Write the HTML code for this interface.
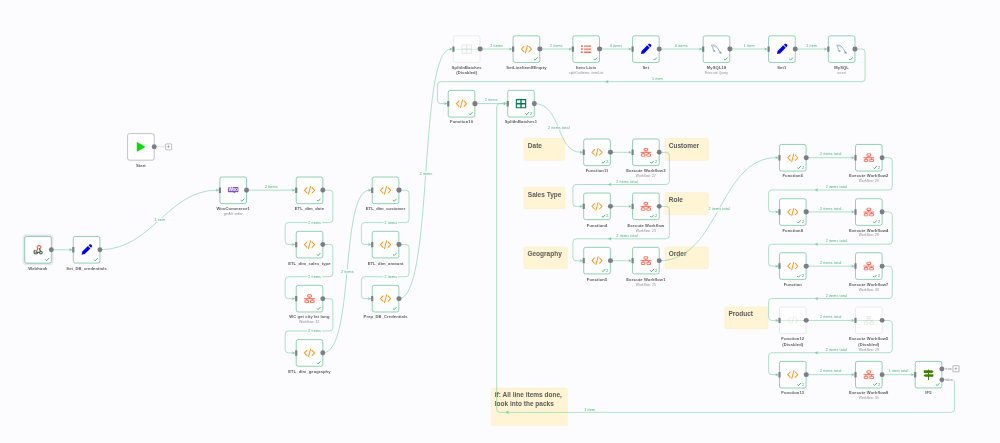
<!DOCTYPE html>
<html lang="en"><head><meta charset="utf-8"><title>n8n workflow</title>
<style>
html,body{margin:0;padding:0;overflow:hidden}
body{width:1000px;height:443px;overflow:hidden;background:#fcfcfe;position:relative;
 font-family:"Liberation Sans",sans-serif}
#cv{position:absolute;left:0;top:0;width:3700px;height:1640px;transform:scale(0.2715);transform-origin:0 0}
#wires{position:absolute;left:0;top:0;overflow:visible}
.n{position:absolute;width:100px;height:100px;box-sizing:border-box;background:#fff;border:2px solid #36ab72;border-radius:8px}
.n.idle{border-color:#8e8e99}
.n.sel{box-shadow:0 0 0 7px #e6e7f0}
.n.off{border-color:#dcdce3}
.n .ic{position:absolute;left:50%;top:50%;transform:translate(-50%,-50%)}
.n.off .ic{opacity:.2;filter:grayscale(1)}
.n .strike{position:absolute;left:-2px;right:-2px;top:47px;height:2px;background:#a9dfc3}
.in{position:absolute;left:-5px;top:38px;width:8px;height:20px;background:#7d7d87;border-radius:1px}
.out{position:absolute;left:88.2px;top:38.8px;width:18.4px;height:18.4px;border-radius:50%;background:#7d7d87}
.n.if .o1{top:17.8px}.n.if .o2{top:57.8px}
.olab{position:absolute;left:109px;font-size:12px;color:#777780;line-height:12px;letter-spacing:.3px;background:#fcfcfe;padding:0 2px}
.st{position:absolute;right:6px;bottom:5px;height:14px;display:flex;align-items:center;color:#29a568;font-size:14.5px;font-weight:400;line-height:14px}
.st span{margin-left:2.5px}
.t{position:absolute;left:-100px;width:296px;top:104.2px;text-align:center;font-size:15px;line-height:21px;font-weight:700;color:#5c5c5c;letter-spacing:.45px;white-space:nowrap}
.s{font-size:12px;line-height:15px;font-weight:400;color:#8a8a94;letter-spacing:.4px;margin-top:2px}
.plus{position:absolute;width:24px;height:24px;box-sizing:border-box;border:2px solid #8a8a95;border-radius:3px;background:#fff;
 color:#7d7d87;font-size:18px;line-height:19px;text-align:center;font-weight:700}
.pl{position:absolute;height:2px;background:#c9cad3}
.sticky{position:absolute;box-sizing:border-box;background:#fff4d3;border:1.5px solid #f6e5b6;border-radius:5px;color:#5a5a5a;
 font-weight:700;font-size:24px;line-height:32px;padding:10px 0 0 13px;letter-spacing:0;white-space:nowrap}
.lb{position:absolute;transform:translate(-50%,-50%);font-size:13.5px;line-height:14px;color:#40b079;white-space:nowrap;padding:0 3px;letter-spacing:.5px}
.lb.on{background:#fcfcfe}
</style></head>
<body>
<div id="cv">
<div class="sticky" style="left:1930.0px;top:509.4px;width:150.6px;height:81.4px">Date</div>
<div class="sticky" style="left:2449.0px;top:509.4px;width:161.3px;height:81.4px">Customer</div>
<div class="sticky" style="left:1930.0px;top:689.1px;width:150.6px;height:81.4px">Sales Type</div>
<div class="sticky" style="left:2449.0px;top:709.4px;width:161.3px;height:81.4px">Role</div>
<div class="sticky" style="left:1928.5px;top:909.4px;width:161.3px;height:81.0px">Geography</div>
<div class="sticky" style="left:2449.0px;top:909.4px;width:161.3px;height:81.0px">Order</div>
<div class="sticky" style="left:2668.9px;top:1129.7px;width:160.6px;height:81.0px">Product</div>
<div class="sticky" style="left:1808.5px;top:1429.1px;width:281.8px;height:139.6px">if: All line items done,<br>look into the packs</div>
<svg id="wires" width="3700" height="1640" viewBox="0 0 1004.550 445.260"><g fill="none" stroke="#79cfa3" stroke-width="0.6"><path d="M51.15 249.77 L70.50 249.77"/><path d="M99.85 249.77 C151.85 249.77 167.60 190.17 217.10 190.17"/><path d="M246.45 190.17 L293.30 190.17"/><path d="M322.65 190.17 L329.65 190.17 Q332.85 190.17 332.85 193.37 L332.85 219.35 Q332.85 222.55 329.65 222.55 L288.40 222.55 Q285.20 222.55 285.20 225.75 L285.20 241.28 Q285.20 244.47 288.40 244.47 L293.30 244.47"/><path d="M322.65 244.47 L329.65 244.47 Q332.85 244.47 332.85 247.67 L332.85 273.55 Q332.85 276.75 329.65 276.75 L288.40 276.75 Q285.20 276.75 285.20 279.95 L285.20 295.48 Q285.20 298.68 288.40 298.68 L293.30 298.68"/><path d="M322.65 298.68 L329.65 298.68 Q332.85 298.68 332.85 301.88 L332.85 327.75 Q332.85 330.95 329.65 330.95 L288.40 330.95 Q285.20 330.95 285.20 334.15 L285.20 349.68 Q285.20 352.88 288.40 352.88 L293.30 352.88"/><path d="M322.65 352.88 C355.15 352.88 339.50 190.17 369.50 190.17"/><path d="M398.85 190.17 L405.85 190.17 Q409.05 190.17 409.05 193.37 L409.05 219.35 Q409.05 222.55 405.85 222.55 L364.60 222.55 Q361.40 222.55 361.40 225.75 L361.40 241.28 Q361.40 244.47 364.60 244.47 L369.50 244.47"/><path d="M398.85 244.47 L405.85 244.47 Q409.05 244.47 409.05 247.67 L409.05 273.55 Q409.05 276.75 405.85 276.75 L364.60 276.75 Q361.40 276.75 361.40 279.95 L361.40 295.48 Q361.40 298.68 364.60 298.68 L369.50 298.68"/><path d="M398.85 298.68 C433.85 298.68 418.20 49.03 450.70 49.03"/><path d="M480.05 49.03 L510.40 49.03"/><path d="M539.75 49.03 L570.10 49.03"/><path d="M599.45 49.03 L629.80 49.03"/><path d="M659.15 49.03 L700.50 49.03"/><path d="M729.85 49.03 L765.70 49.03"/><path d="M795.05 49.03 L825.50 49.03"/><path d="M854.85 49.03 L861.85 49.03 Q865.05 49.03 865.05 52.23 L865.05 78.45 Q865.05 81.65 861.85 81.65 L440.60 81.65 Q437.40 81.65 437.40 84.85 L437.40 100.38 Q437.40 103.58 440.60 103.58 L445.50 103.58"/><path d="M474.85 103.58 L504.80 103.58"/><path d="M534.15 103.58 C562.15 103.58 555.50 152.32 581.00 152.32"/><path d="M610.35 152.32 L629.80 152.32"/><path d="M659.15 152.32 L666.15 152.32 Q669.35 152.32 669.35 155.52 L669.35 181.30 Q669.35 184.50 666.15 184.50 L576.10 184.50 Q572.90 184.50 572.90 187.70 L572.90 203.22 Q572.90 206.42 576.10 206.42 L581.00 206.42"/><path d="M610.35 206.42 L629.80 206.42"/><path d="M659.15 206.42 L666.15 206.42 Q669.35 206.42 669.35 209.62 L669.35 235.60 Q669.35 238.80 666.15 238.80 L576.10 238.80 Q572.90 238.80 572.90 242.00 L572.90 257.53 Q572.90 260.73 576.10 260.73 L581.00 260.73"/><path d="M610.35 260.73 L629.80 260.73"/><path d="M659.15 260.73 C720.15 260.73 718.20 157.67 776.70 157.67"/><path d="M806.05 157.67 L852.70 157.67"/><path d="M882.05 157.67 L889.05 157.67 Q892.25 157.67 892.25 160.87 L892.25 186.80 Q892.25 190.00 889.05 190.00 L771.80 190.00 Q768.60 190.00 768.60 193.20 L768.60 208.72 Q768.60 211.92 771.80 211.92 L776.70 211.92"/><path d="M806.05 211.92 L852.70 211.92"/><path d="M882.05 211.92 L889.05 211.92 Q892.25 211.92 892.25 215.12 L892.25 241.05 Q892.25 244.25 889.05 244.25 L771.80 244.25 Q768.60 244.25 768.60 247.45 L768.60 262.98 Q768.60 266.18 771.80 266.18 L776.70 266.18"/><path d="M806.05 266.18 L852.70 266.18"/><path d="M882.05 266.18 L889.05 266.18 Q892.25 266.18 892.25 269.38 L892.25 295.30 Q892.25 298.50 889.05 298.50 L771.80 298.50 Q768.60 298.50 768.60 301.70 L768.60 317.23 Q768.60 320.43 771.80 320.43 L776.70 320.43"/><path d="M806.05 320.43 L852.70 320.43"/><path d="M882.05 320.43 L889.05 320.43 Q892.25 320.43 892.25 323.62 L892.25 349.55 Q892.25 352.75 889.05 352.75 L771.80 352.75 Q768.60 352.75 768.60 355.95 L768.60 371.48 Q768.60 374.68 771.80 374.68 L776.70 374.68"/><path d="M806.05 374.68 L852.70 374.68"/><path d="M882.05 374.68 L912.40 374.68"/><path d="M941.75 379.60 L951.25 379.60 Q954.45 379.60 954.45 382.80 L954.45 409.15 Q954.45 412.35 951.25 412.35 L499.90 412.35 Q496.70 412.35 496.70 409.15 L496.70 106.78 Q496.70 103.58 499.90 103.58 L504.80 103.58"/></g><g fill="#79cfa3"><path d="M72.40 249.77 l-3.2 -1.65 l0.7 1.65 l-0.7 1.65 z"/><path d="M219.00 190.17 l-3.2 -1.65 l0.7 1.65 l-0.7 1.65 z"/><path d="M295.20 190.17 l-3.2 -1.65 l0.7 1.65 l-0.7 1.65 z"/><path d="M295.20 244.47 l-3.2 -1.65 l0.7 1.65 l-0.7 1.65 z"/><path d="M295.20 298.68 l-3.2 -1.65 l0.7 1.65 l-0.7 1.65 z"/><path d="M295.20 352.88 l-3.2 -1.65 l0.7 1.65 l-0.7 1.65 z"/><path d="M371.40 190.17 l-3.2 -1.65 l0.7 1.65 l-0.7 1.65 z"/><path d="M371.40 244.47 l-3.2 -1.65 l0.7 1.65 l-0.7 1.65 z"/><path d="M371.40 298.68 l-3.2 -1.65 l0.7 1.65 l-0.7 1.65 z"/><path d="M452.60 49.03 l-3.2 -1.65 l0.7 1.65 l-0.7 1.65 z"/><path d="M512.30 49.03 l-3.2 -1.65 l0.7 1.65 l-0.7 1.65 z"/><path d="M572.00 49.03 l-3.2 -1.65 l0.7 1.65 l-0.7 1.65 z"/><path d="M631.70 49.03 l-3.2 -1.65 l0.7 1.65 l-0.7 1.65 z"/><path d="M702.40 49.03 l-3.2 -1.65 l0.7 1.65 l-0.7 1.65 z"/><path d="M767.60 49.03 l-3.2 -1.65 l0.7 1.65 l-0.7 1.65 z"/><path d="M827.40 49.03 l-3.2 -1.65 l0.7 1.65 l-0.7 1.65 z"/><path d="M447.40 103.58 l-3.2 -1.65 l0.7 1.65 l-0.7 1.65 z"/><path d="M605.17 81.65 l3.4 -1.85 l-0.8 1.85 l0.8 1.85 z"/><path d="M506.70 103.58 l-3.2 -1.65 l0.7 1.65 l-0.7 1.65 z"/><path d="M582.90 152.32 l-3.2 -1.65 l0.7 1.65 l-0.7 1.65 z"/><path d="M631.70 152.32 l-3.2 -1.65 l0.7 1.65 l-0.7 1.65 z"/><path d="M582.90 206.42 l-3.2 -1.65 l0.7 1.65 l-0.7 1.65 z"/><path d="M608.01 184.50 l3.4 -1.85 l-0.8 1.85 l0.8 1.85 z"/><path d="M631.70 206.42 l-3.2 -1.65 l0.7 1.65 l-0.7 1.65 z"/><path d="M582.90 260.73 l-3.2 -1.65 l0.7 1.65 l-0.7 1.65 z"/><path d="M608.09 238.80 l3.4 -1.85 l-0.8 1.85 l0.8 1.85 z"/><path d="M631.70 260.73 l-3.2 -1.65 l0.7 1.65 l-0.7 1.65 z"/><path d="M778.60 157.67 l-3.2 -1.65 l0.7 1.65 l-0.7 1.65 z"/><path d="M854.60 157.67 l-3.2 -1.65 l0.7 1.65 l-0.7 1.65 z"/><path d="M778.60 211.92 l-3.2 -1.65 l0.7 1.65 l-0.7 1.65 z"/><path d="M814.65 190.00 l3.4 -1.85 l-0.8 1.85 l0.8 1.85 z"/><path d="M854.60 211.92 l-3.2 -1.65 l0.7 1.65 l-0.7 1.65 z"/><path d="M778.60 266.18 l-3.2 -1.65 l0.7 1.65 l-0.7 1.65 z"/><path d="M814.65 244.25 l3.4 -1.85 l-0.8 1.85 l0.8 1.85 z"/><path d="M854.60 266.18 l-3.2 -1.65 l0.7 1.65 l-0.7 1.65 z"/><path d="M778.60 320.43 l-3.2 -1.65 l0.7 1.65 l-0.7 1.65 z"/><path d="M814.65 298.50 l3.4 -1.85 l-0.8 1.85 l0.8 1.85 z"/><path d="M854.60 320.43 l-3.2 -1.65 l0.7 1.65 l-0.7 1.65 z"/><path d="M778.60 374.68 l-3.2 -1.65 l0.7 1.65 l-0.7 1.65 z"/><path d="M814.65 352.75 l3.4 -1.85 l-0.8 1.85 l0.8 1.85 z"/><path d="M854.60 374.68 l-3.2 -1.65 l0.7 1.65 l-0.7 1.65 z"/><path d="M914.30 374.68 l-3.2 -1.65 l0.7 1.65 l-0.7 1.65 z"/><path d="M506.70 103.58 l-3.2 -1.65 l0.7 1.65 l-0.7 1.65 z"/><path d="M505.45 412.35 l3.4 -1.85 l-0.8 1.85 l0.8 1.85 z"/></g></svg>
<div class="pl" style="left:567.8px;top:539.6px;width:41.4px"></div><div class="plus" style="left:608.8px;top:528.6px">+</div>
<div class="pl" style="left:3468.7px;top:1357.2px;width:41.4px"></div><div class="plus" style="left:3508.7px;top:1346.2px;box-shadow:0 0 0 2px #e6e7f0">+</div>
<div class="lb on" style="left:588.3px;top:810.2px">1 item</div>
<div class="lb " style="left:999.2px;top:687.6px">2 items</div>
<div class="lb on" style="left:1158.9px;top:819.7px">2 items</div>
<div class="lb on" style="left:1158.7px;top:1019.3px">2 items</div>
<div class="lb on" style="left:1158.7px;top:1219.0px">2 items</div>
<div class="lb on" style="left:1279.3px;top:1000.1px">2 items</div>
<div class="lb on" style="left:1439.6px;top:819.7px">2 items</div>
<div class="lb on" style="left:1439.4px;top:1019.3px">2 items</div>
<div class="lb on" style="left:1569.2px;top:640.3px">2 items</div>
<div class="lb " style="left:1829.2px;top:167.7px">2 items</div>
<div class="lb " style="left:2049.1px;top:167.7px">2 items</div>
<div class="lb " style="left:2269.0px;top:167.7px">4 items</div>
<div class="lb " style="left:2509.1px;top:167.7px">4 items</div>
<div class="lb " style="left:2759.4px;top:167.7px">1 item</div>
<div class="lb " style="left:2989.6px;top:167.7px">1 item</div>
<div class="lb " style="left:2421.3px;top:290.1px">1 item</div>
<div class="lb " style="left:1809.3px;top:368.6px">2 items</div>
<div class="lb on" style="left:2058.3px;top:471.3px">2 items total</div>
<div class="lb " style="left:2309.6px;top:668.9px">2 items total</div>
<div class="lb " style="left:2309.9px;top:868.9px">2 items total</div>
<div class="lb on" style="left:2648.9px;top:770.5px">2 items total</div>
<div class="lb " style="left:3059.9px;top:567.9px">2 items total</div>
<div class="lb " style="left:3080.8px;top:689.1px">2 items total</div>
<div class="lb " style="left:3059.9px;top:767.7px">2 items total</div>
<div class="lb " style="left:3080.8px;top:889.0px">2 items total</div>
<div class="lb " style="left:3059.9px;top:967.5px">2 items total</div>
<div class="lb " style="left:3080.8px;top:1088.8px">2 items total</div>
<div class="lb " style="left:3059.9px;top:1167.3px">2 items total</div>
<div class="lb " style="left:3080.8px;top:1288.6px">2 items total</div>
<div class="lb " style="left:3059.9px;top:1367.1px">2 items total</div>
<div class="lb " style="left:3309.9px;top:1367.1px">1 item total</div>
<div class="lb " style="left:2171.7px;top:1508.1px">1 item</div>
<div class="n sel" style="left:89.5px;top:870.0px"><svg class="ic" width="36" height="36" viewBox="0 0 36 36"><g fill="none" stroke-linecap="round" stroke-linejoin="round" stroke-width="4.4"><path d="M11 27.5 H24 C25.5 22.5 33 23 33.5 28 C34 33.5 27 35 24.5 31.5" stroke="#3d6957"/><path d="M22.5 13.5 L26.5 21" stroke="#3d6957"/><path d="M7.5 20 C2 22 1.5 30 7 32.5 C12 34.5 16.5 31.5 17 27.5" stroke="#3d6957"/><path d="M10.5 27 L17 14.5 C13.5 10.5 15.5 3.5 21 3 C27 2.6 30 8.5 27.5 12.5" stroke="#ff6150"/></g></svg><div class="out"></div><div class="st"><svg width="16" height="13.7" viewBox="0 0 14 12"><path d="M1.5 6.5 L5 10 L12.5 2" fill="none" stroke="#29a568" stroke-width="2.7" stroke-linecap="round" stroke-linejoin="round"/></svg></div><div class="t" style="top:105.3px">Webhook</div></div>
<div class="n" style="left:268.9px;top:870.0px"><svg class="ic" width="43" height="43" viewBox="0 0 40 40"><g fill="#0000ff"><path d="M3 37 L5.2 26.2 L24.5 6.9 L33.1 15.5 L13.8 34.8 Z"/><path d="M26.6 4.8 L29.2 2.2 a4.2 4.2 0 0 1 6 0 L37.8 4.8 a4.2 4.2 0 0 1 0 6 L35.2 13.4 Z"/></g></svg><div class="in"></div><div class="out"></div><div class="st"><svg width="16" height="13.7" viewBox="0 0 14 12"><path d="M1.5 6.5 L5 10 L12.5 2" fill="none" stroke="#29a568" stroke-width="2.7" stroke-linecap="round" stroke-linejoin="round"/></svg></div><div class="t" style="top:105.3px">Set_DB_credentials</div></div>
<div class="n idle" style="left:468.9px;top:490.6px"><svg class="ic" width="32" height="36" viewBox="0 0 32 36"><path d="M3.5 1 L29 15.6 a2.8 2.8 0 0 1 0 4.8 L3.5 35 a2.4 2.4 0 0 1 -3.5 -2 V3 a2.4 2.4 0 0 1 3.5 -2 Z" fill="#00e000"/></svg><div class="out"></div><div class="t" style="top:105.3px">Start</div></div>
<div class="n" style="left:808.8px;top:650.5px"><svg class="ic" width="40" height="24" viewBox="0 0 40 24"><path d="M3.5 0 H36.5 a3.5 3.5 0 0 1 3.5 3.5 V15.5 a3.5 3.5 0 0 1 -3.5 3.5 H25 L28 24 L19 19 H3.5 a3.5 3.5 0 0 1 -3.5 -3.5 V3.5 a3.5 3.5 0 0 1 3.5 -3.5 Z" fill="#7f54b3"/><text x="19.5" y="15.8" text-anchor="middle" font-family="Liberation Sans, sans-serif" font-weight="700" font-size="17.5" letter-spacing="-1.1" fill="#fff">Woo</text></svg><div class="in"></div><div class="out"></div><div class="st"><svg width="16" height="13.7" viewBox="0 0 14 12"><path d="M1.5 6.5 L5 10 L12.5 2" fill="none" stroke="#29a568" stroke-width="2.7" stroke-linecap="round" stroke-linejoin="round"/></svg></div><div class="t">WooCommerce1<div class="s">getAll: order</div></div></div>
<div class="n" style="left:1089.5px;top:650.5px"><svg class="ic" width="44" height="35" viewBox="0 0 40 32"><g fill="none" stroke="#ff9922" stroke-width="3.5" stroke-linecap="round" stroke-linejoin="round"><path d="M11.5 7 L3 16 L11.5 25"/><path d="M28.5 7 L37 16 L28.5 25"/><path d="M23.5 3 L16.5 29"/></g></svg><div class="in"></div><div class="out"></div><div class="st"><svg width="16" height="13.7" viewBox="0 0 14 12"><path d="M1.5 6.5 L5 10 L12.5 2" fill="none" stroke="#29a568" stroke-width="2.7" stroke-linecap="round" stroke-linejoin="round"/></svg></div><div class="t">ETL_dim_date</div></div>
<div class="n" style="left:1089.5px;top:850.5px"><svg class="ic" width="44" height="35" viewBox="0 0 40 32"><g fill="none" stroke="#ff9922" stroke-width="3.5" stroke-linecap="round" stroke-linejoin="round"><path d="M11.5 7 L3 16 L11.5 25"/><path d="M28.5 7 L37 16 L28.5 25"/><path d="M23.5 3 L16.5 29"/></g></svg><div class="in"></div><div class="out"></div><div class="st"><svg width="16" height="13.7" viewBox="0 0 14 12"><path d="M1.5 6.5 L5 10 L12.5 2" fill="none" stroke="#29a568" stroke-width="2.7" stroke-linecap="round" stroke-linejoin="round"/></svg></div><div class="t" style="top:106.0px">ETL_dim_sales_type</div></div>
<div class="n" style="left:1089.5px;top:1050.1px"><svg class="ic" width="41" height="33" viewBox="0 0 40 32"><g fill="none" stroke="#ff5d4a" stroke-width="3.5" stroke-linejoin="round"><rect x="13.6" y="1.6" width="12.8" height="8.8" rx="1"/><rect x="3.6" y="21.6" width="12.8" height="8.8" rx="1"/><rect x="23.6" y="21.6" width="12.8" height="8.8" rx="1"/></g><g fill="#ff5d4a"><rect x="0" y="14.4" width="40" height="3.2"/><rect x="18.6" y="10" width="2.8" height="6"/><rect x="8.6" y="16" width="2.8" height="6"/><rect x="28.6" y="16" width="2.8" height="6"/></g></svg><div class="in"></div><div class="out"></div><div class="st"><svg width="16" height="13.7" viewBox="0 0 14 12"><path d="M1.5 6.5 L5 10 L12.5 2" fill="none" stroke="#29a568" stroke-width="2.7" stroke-linecap="round" stroke-linejoin="round"/></svg></div><div class="t">WC get city lat long<div class="s">Workflow: 32</div></div></div>
<div class="n" style="left:1089.5px;top:1249.7px"><svg class="ic" width="44" height="35" viewBox="0 0 40 32"><g fill="none" stroke="#ff9922" stroke-width="3.5" stroke-linecap="round" stroke-linejoin="round"><path d="M11.5 7 L3 16 L11.5 25"/><path d="M28.5 7 L37 16 L28.5 25"/><path d="M23.5 3 L16.5 29"/></g></svg><div class="in"></div><div class="out"></div><div class="st"><svg width="16" height="13.7" viewBox="0 0 14 12"><path d="M1.5 6.5 L5 10 L12.5 2" fill="none" stroke="#29a568" stroke-width="2.7" stroke-linecap="round" stroke-linejoin="round"/></svg></div><div class="t" style="top:105.3px">ETL_dim_geography</div></div>
<div class="n" style="left:1370.2px;top:650.5px"><svg class="ic" width="44" height="35" viewBox="0 0 40 32"><g fill="none" stroke="#ff9922" stroke-width="3.5" stroke-linecap="round" stroke-linejoin="round"><path d="M11.5 7 L3 16 L11.5 25"/><path d="M28.5 7 L37 16 L28.5 25"/><path d="M23.5 3 L16.5 29"/></g></svg><div class="in"></div><div class="out"></div><div class="st"><svg width="16" height="13.7" viewBox="0 0 14 12"><path d="M1.5 6.5 L5 10 L12.5 2" fill="none" stroke="#29a568" stroke-width="2.7" stroke-linecap="round" stroke-linejoin="round"/></svg></div><div class="t">ETL_dim_customer</div></div>
<div class="n" style="left:1370.2px;top:850.5px"><svg class="ic" width="44" height="35" viewBox="0 0 40 32"><g fill="none" stroke="#ff9922" stroke-width="3.5" stroke-linecap="round" stroke-linejoin="round"><path d="M11.5 7 L3 16 L11.5 25"/><path d="M28.5 7 L37 16 L28.5 25"/><path d="M23.5 3 L16.5 29"/></g></svg><div class="in"></div><div class="out"></div><div class="st"><svg width="16" height="13.7" viewBox="0 0 14 12"><path d="M1.5 6.5 L5 10 L12.5 2" fill="none" stroke="#29a568" stroke-width="2.7" stroke-linecap="round" stroke-linejoin="round"/></svg></div><div class="t" style="top:106.0px">ETL_dim_amount</div></div>
<div class="n" style="left:1370.2px;top:1050.1px"><svg class="ic" width="44" height="35" viewBox="0 0 40 32"><g fill="none" stroke="#ff9922" stroke-width="3.5" stroke-linecap="round" stroke-linejoin="round"><path d="M11.5 7 L3 16 L11.5 25"/><path d="M28.5 7 L37 16 L28.5 25"/><path d="M23.5 3 L16.5 29"/></g></svg><div class="in"></div><div class="out"></div><div class="st"><svg width="16" height="13.7" viewBox="0 0 14 12"><path d="M1.5 6.5 L5 10 L12.5 2" fill="none" stroke="#29a568" stroke-width="2.7" stroke-linecap="round" stroke-linejoin="round"/></svg></div><div class="t">Prep_DB_Credentials</div></div>
<div class="n off" style="left:1669.2px;top:130.6px"><svg class="ic" width="40" height="36" viewBox="0 0 40 36"><path fill-rule="evenodd" fill="#9a9aa3" d="M4 0 H36 a4 4 0 0 1 4 4 V32 a4 4 0 0 1 -4 4 H4 a4 4 0 0 1 -4 -4 V4 a4 4 0 0 1 4 -4 Z M5 5 V15.5 H17.5 V5 Z M22.5 5 V15.5 H35 V5 Z M5 20.5 V31 H17.5 V20.5 Z M22.5 20.5 V31 H35 V20.5 Z"/></svg><div class="strike"></div><div class="in"></div><div class="out"></div><div class="t">SplitInBatches<br>(Disabled)</div></div>
<div class="n" style="left:1889.1px;top:130.6px"><svg class="ic" width="44" height="35" viewBox="0 0 40 32"><g fill="none" stroke="#ff9922" stroke-width="3.5" stroke-linecap="round" stroke-linejoin="round"><path d="M11.5 7 L3 16 L11.5 25"/><path d="M28.5 7 L37 16 L28.5 25"/><path d="M23.5 3 L16.5 29"/></g></svg><div class="in"></div><div class="out"></div><div class="st"><svg width="16" height="13.7" viewBox="0 0 14 12"><path d="M1.5 6.5 L5 10 L12.5 2" fill="none" stroke="#29a568" stroke-width="2.7" stroke-linecap="round" stroke-linejoin="round"/></svg></div><div class="t">SetLineItemIfEmpty</div></div>
<div class="n" style="left:2109.0px;top:130.6px"><svg class="ic" width="40" height="32" viewBox="0 0 40 32"><g fill="#ff6d5a"><rect x="1" y="1.5" width="6.5" height="6.5" rx="1"/><rect x="12" y="2.2" width="27" height="5" rx="1.2"/><rect x="1" y="12.7" width="6.5" height="6.5" rx="1"/><rect x="12" y="13.5" width="27" height="5" rx="1.2"/><rect x="1" y="24" width="6.5" height="6.5" rx="1"/><rect x="12" y="24.8" width="27" height="5" rx="1.2"/></g></svg><div class="in"></div><div class="out"></div><div class="st"><svg width="16" height="13.7" viewBox="0 0 14 12"><path d="M1.5 6.5 L5 10 L12.5 2" fill="none" stroke="#29a568" stroke-width="2.7" stroke-linecap="round" stroke-linejoin="round"/></svg></div><div class="t">Item Lists<div class="s">splitOutItems: itemList</div></div></div>
<div class="n" style="left:2328.9px;top:130.6px"><svg class="ic" width="43" height="43" viewBox="0 0 40 40"><g fill="#0000ff"><path d="M3 37 L5.2 26.2 L24.5 6.9 L33.1 15.5 L13.8 34.8 Z"/><path d="M26.6 4.8 L29.2 2.2 a4.2 4.2 0 0 1 6 0 L37.8 4.8 a4.2 4.2 0 0 1 0 6 L35.2 13.4 Z"/></g></svg><div class="in"></div><div class="out"></div><div class="st"><svg width="16" height="13.7" viewBox="0 0 14 12"><path d="M1.5 6.5 L5 10 L12.5 2" fill="none" stroke="#29a568" stroke-width="2.7" stroke-linecap="round" stroke-linejoin="round"/></svg></div><div class="t">Set</div></div>
<div class="n" style="left:2589.3px;top:130.6px"><svg class="ic" width="40" height="36" viewBox="0 0 40 36"><g fill="none" stroke="#3f6f9a" stroke-width="1.9" stroke-linecap="round" stroke-linejoin="round"><path d="M1.5 3.5 C9 0.5 17 4 22.5 11.5 C27.5 19 30 25 36.5 31.5"/><path d="M3 5.5 C5.5 9.5 6.5 13.5 7.5 18.5 C8.3 22.5 9.3 25.5 11 28 L12.5 22.5 L15 25.5"/><path d="M32.5 27 L38 33.5 L30.5 31.5"/><path d="M8 6.5 C12 6.5 15.5 8.5 18 11.5" stroke="#8f9fdc"/></g></svg><div class="in"></div><div class="out"></div><div class="st"><svg width="16" height="13.7" viewBox="0 0 14 12"><path d="M1.5 6.5 L5 10 L12.5 2" fill="none" stroke="#29a568" stroke-width="2.7" stroke-linecap="round" stroke-linejoin="round"/></svg></div><div class="t">MySQL18<div class="s">Execute Query</div></div></div>
<div class="n" style="left:2829.5px;top:130.6px"><svg class="ic" width="43" height="43" viewBox="0 0 40 40"><g fill="#0000ff"><path d="M3 37 L5.2 26.2 L24.5 6.9 L33.1 15.5 L13.8 34.8 Z"/><path d="M26.6 4.8 L29.2 2.2 a4.2 4.2 0 0 1 6 0 L37.8 4.8 a4.2 4.2 0 0 1 0 6 L35.2 13.4 Z"/></g></svg><div class="in"></div><div class="out"></div><div class="st"><svg width="16" height="13.7" viewBox="0 0 14 12"><path d="M1.5 6.5 L5 10 L12.5 2" fill="none" stroke="#29a568" stroke-width="2.7" stroke-linecap="round" stroke-linejoin="round"/></svg></div><div class="t">Set1</div></div>
<div class="n" style="left:3049.7px;top:130.6px"><svg class="ic" width="40" height="36" viewBox="0 0 40 36"><g fill="none" stroke="#3f6f9a" stroke-width="1.9" stroke-linecap="round" stroke-linejoin="round"><path d="M1.5 3.5 C9 0.5 17 4 22.5 11.5 C27.5 19 30 25 36.5 31.5"/><path d="M3 5.5 C5.5 9.5 6.5 13.5 7.5 18.5 C8.3 22.5 9.3 25.5 11 28 L12.5 22.5 L15 25.5"/><path d="M32.5 27 L38 33.5 L30.5 31.5"/><path d="M8 6.5 C12 6.5 15.5 8.5 18 11.5" stroke="#8f9fdc"/></g></svg><div class="in"></div><div class="out"></div><div class="st"><svg width="16" height="13.7" viewBox="0 0 14 12"><path d="M1.5 6.5 L5 10 L12.5 2" fill="none" stroke="#29a568" stroke-width="2.7" stroke-linecap="round" stroke-linejoin="round"/></svg></div><div class="t">MySQL<div class="s">insert</div></div></div>
<div class="n" style="left:1650.1px;top:331.5px"><svg class="ic" width="44" height="35" viewBox="0 0 40 32"><g fill="none" stroke="#ff9922" stroke-width="3.5" stroke-linecap="round" stroke-linejoin="round"><path d="M11.5 7 L3 16 L11.5 25"/><path d="M28.5 7 L37 16 L28.5 25"/><path d="M23.5 3 L16.5 29"/></g></svg><div class="in"></div><div class="out"></div><div class="st"><svg width="16" height="13.7" viewBox="0 0 14 12"><path d="M1.5 6.5 L5 10 L12.5 2" fill="none" stroke="#29a568" stroke-width="2.7" stroke-linecap="round" stroke-linejoin="round"/></svg></div><div class="t">Function10</div></div>
<div class="n" style="left:1868.5px;top:331.5px"><svg class="ic" width="40" height="36" viewBox="0 0 40 36"><path fill-rule="evenodd" fill="#007755" d="M4 0 H36 a4 4 0 0 1 4 4 V32 a4 4 0 0 1 -4 4 H4 a4 4 0 0 1 -4 -4 V4 a4 4 0 0 1 4 -4 Z M5 5 V15.5 H17.5 V5 Z M22.5 5 V15.5 H35 V5 Z M5 20.5 V31 H17.5 V20.5 Z M22.5 20.5 V31 H35 V20.5 Z"/></svg><div class="in"></div><div class="out"></div><div class="st"><svg width="16" height="13.7" viewBox="0 0 14 12"><path d="M1.5 6.5 L5 10 L12.5 2" fill="none" stroke="#29a568" stroke-width="2.7" stroke-linecap="round" stroke-linejoin="round"/></svg><span>2</span></div><div class="t">SplitInBatches1</div></div>
<div class="n" style="left:2149.2px;top:511.0px"><svg class="ic" width="44" height="35" viewBox="0 0 40 32"><g fill="none" stroke="#ff9922" stroke-width="3.5" stroke-linecap="round" stroke-linejoin="round"><path d="M11.5 7 L3 16 L11.5 25"/><path d="M28.5 7 L37 16 L28.5 25"/><path d="M23.5 3 L16.5 29"/></g></svg><div class="in"></div><div class="out"></div><div class="st"><svg width="16" height="13.7" viewBox="0 0 14 12"><path d="M1.5 6.5 L5 10 L12.5 2" fill="none" stroke="#29a568" stroke-width="2.7" stroke-linecap="round" stroke-linejoin="round"/></svg><span>2</span></div><div class="t">Function11</div></div>
<div class="n" style="left:2328.9px;top:511.0px"><svg class="ic" width="41" height="33" viewBox="0 0 40 32"><g fill="none" stroke="#ff5d4a" stroke-width="3.5" stroke-linejoin="round"><rect x="13.6" y="1.6" width="12.8" height="8.8" rx="1"/><rect x="3.6" y="21.6" width="12.8" height="8.8" rx="1"/><rect x="23.6" y="21.6" width="12.8" height="8.8" rx="1"/></g><g fill="#ff5d4a"><rect x="0" y="14.4" width="40" height="3.2"/><rect x="18.6" y="10" width="2.8" height="6"/><rect x="8.6" y="16" width="2.8" height="6"/><rect x="28.6" y="16" width="2.8" height="6"/></g></svg><div class="in"></div><div class="out"></div><div class="st"><svg width="16" height="13.7" viewBox="0 0 14 12"><path d="M1.5 6.5 L5 10 L12.5 2" fill="none" stroke="#29a568" stroke-width="2.7" stroke-linecap="round" stroke-linejoin="round"/></svg><span>2</span></div><div class="t">Execute Workflow3<div class="s">Workflow: 27</div></div></div>
<div class="n" style="left:2149.2px;top:710.3px"><svg class="ic" width="44" height="35" viewBox="0 0 40 32"><g fill="none" stroke="#ff9922" stroke-width="3.5" stroke-linecap="round" stroke-linejoin="round"><path d="M11.5 7 L3 16 L11.5 25"/><path d="M28.5 7 L37 16 L28.5 25"/><path d="M23.5 3 L16.5 29"/></g></svg><div class="in"></div><div class="out"></div><div class="st"><svg width="16" height="13.7" viewBox="0 0 14 12"><path d="M1.5 6.5 L5 10 L12.5 2" fill="none" stroke="#29a568" stroke-width="2.7" stroke-linecap="round" stroke-linejoin="round"/></svg><span>2</span></div><div class="t" style="top:106.4px">Function4</div></div>
<div class="n" style="left:2328.9px;top:710.3px"><svg class="ic" width="41" height="33" viewBox="0 0 40 32"><g fill="none" stroke="#ff5d4a" stroke-width="3.5" stroke-linejoin="round"><rect x="13.6" y="1.6" width="12.8" height="8.8" rx="1"/><rect x="3.6" y="21.6" width="12.8" height="8.8" rx="1"/><rect x="23.6" y="21.6" width="12.8" height="8.8" rx="1"/></g><g fill="#ff5d4a"><rect x="0" y="14.4" width="40" height="3.2"/><rect x="18.6" y="10" width="2.8" height="6"/><rect x="8.6" y="16" width="2.8" height="6"/><rect x="28.6" y="16" width="2.8" height="6"/></g></svg><div class="in"></div><div class="out"></div><div class="st"><svg width="16" height="13.7" viewBox="0 0 14 12"><path d="M1.5 6.5 L5 10 L12.5 2" fill="none" stroke="#29a568" stroke-width="2.7" stroke-linecap="round" stroke-linejoin="round"/></svg><span>2</span></div><div class="t" style="top:106.4px">Execute Workflow<div class="s">Workflow: 23</div></div></div>
<div class="n" style="left:2149.2px;top:910.3px"><svg class="ic" width="44" height="35" viewBox="0 0 40 32"><g fill="none" stroke="#ff9922" stroke-width="3.5" stroke-linecap="round" stroke-linejoin="round"><path d="M11.5 7 L3 16 L11.5 25"/><path d="M28.5 7 L37 16 L28.5 25"/><path d="M23.5 3 L16.5 29"/></g></svg><div class="in"></div><div class="out"></div><div class="st"><svg width="16" height="13.7" viewBox="0 0 14 12"><path d="M1.5 6.5 L5 10 L12.5 2" fill="none" stroke="#29a568" stroke-width="2.7" stroke-linecap="round" stroke-linejoin="round"/></svg><span>2</span></div><div class="t" style="top:105.3px">Function5</div></div>
<div class="n" style="left:2328.9px;top:910.3px"><svg class="ic" width="41" height="33" viewBox="0 0 40 32"><g fill="none" stroke="#ff5d4a" stroke-width="3.5" stroke-linejoin="round"><rect x="13.6" y="1.6" width="12.8" height="8.8" rx="1"/><rect x="3.6" y="21.6" width="12.8" height="8.8" rx="1"/><rect x="23.6" y="21.6" width="12.8" height="8.8" rx="1"/></g><g fill="#ff5d4a"><rect x="0" y="14.4" width="40" height="3.2"/><rect x="18.6" y="10" width="2.8" height="6"/><rect x="8.6" y="16" width="2.8" height="6"/><rect x="28.6" y="16" width="2.8" height="6"/></g></svg><div class="in"></div><div class="out"></div><div class="st"><svg width="16" height="13.7" viewBox="0 0 14 12"><path d="M1.5 6.5 L5 10 L12.5 2" fill="none" stroke="#29a568" stroke-width="2.7" stroke-linecap="round" stroke-linejoin="round"/></svg><span>2</span></div><div class="t" style="top:105.3px">Execute Workflow1<div class="s">Workflow: 25</div></div></div>
<div class="n" style="left:2870.0px;top:530.8px"><svg class="ic" width="44" height="35" viewBox="0 0 40 32"><g fill="none" stroke="#ff9922" stroke-width="3.5" stroke-linecap="round" stroke-linejoin="round"><path d="M11.5 7 L3 16 L11.5 25"/><path d="M28.5 7 L37 16 L28.5 25"/><path d="M23.5 3 L16.5 29"/></g></svg><div class="in"></div><div class="out"></div><div class="st"><svg width="16" height="13.7" viewBox="0 0 14 12"><path d="M1.5 6.5 L5 10 L12.5 2" fill="none" stroke="#29a568" stroke-width="2.7" stroke-linecap="round" stroke-linejoin="round"/></svg><span>2</span></div><div class="t">Function6</div></div>
<div class="n" style="left:3149.9px;top:530.8px"><svg class="ic" width="41" height="33" viewBox="0 0 40 32"><g fill="none" stroke="#ff5d4a" stroke-width="3.5" stroke-linejoin="round"><rect x="13.6" y="1.6" width="12.8" height="8.8" rx="1"/><rect x="3.6" y="21.6" width="12.8" height="8.8" rx="1"/><rect x="23.6" y="21.6" width="12.8" height="8.8" rx="1"/></g><g fill="#ff5d4a"><rect x="0" y="14.4" width="40" height="3.2"/><rect x="18.6" y="10" width="2.8" height="6"/><rect x="8.6" y="16" width="2.8" height="6"/><rect x="28.6" y="16" width="2.8" height="6"/></g></svg><div class="in"></div><div class="out"></div><div class="st"><svg width="16" height="13.7" viewBox="0 0 14 12"><path d="M1.5 6.5 L5 10 L12.5 2" fill="none" stroke="#29a568" stroke-width="2.7" stroke-linecap="round" stroke-linejoin="round"/></svg><span>2</span></div><div class="t">Execute Workflow2<div class="s">Workflow: 26</div></div></div>
<div class="n" style="left:2870.0px;top:730.6px"><svg class="ic" width="44" height="35" viewBox="0 0 40 32"><g fill="none" stroke="#ff9922" stroke-width="3.5" stroke-linecap="round" stroke-linejoin="round"><path d="M11.5 7 L3 16 L11.5 25"/><path d="M28.5 7 L37 16 L28.5 25"/><path d="M23.5 3 L16.5 29"/></g></svg><div class="in"></div><div class="out"></div><div class="st"><svg width="16" height="13.7" viewBox="0 0 14 12"><path d="M1.5 6.5 L5 10 L12.5 2" fill="none" stroke="#29a568" stroke-width="2.7" stroke-linecap="round" stroke-linejoin="round"/></svg><span>2</span></div><div class="t">Function8</div></div>
<div class="n" style="left:3149.9px;top:730.6px"><svg class="ic" width="41" height="33" viewBox="0 0 40 32"><g fill="none" stroke="#ff5d4a" stroke-width="3.5" stroke-linejoin="round"><rect x="13.6" y="1.6" width="12.8" height="8.8" rx="1"/><rect x="3.6" y="21.6" width="12.8" height="8.8" rx="1"/><rect x="23.6" y="21.6" width="12.8" height="8.8" rx="1"/></g><g fill="#ff5d4a"><rect x="0" y="14.4" width="40" height="3.2"/><rect x="18.6" y="10" width="2.8" height="6"/><rect x="8.6" y="16" width="2.8" height="6"/><rect x="28.6" y="16" width="2.8" height="6"/></g></svg><div class="in"></div><div class="out"></div><div class="st"><svg width="16" height="13.7" viewBox="0 0 14 12"><path d="M1.5 6.5 L5 10 L12.5 2" fill="none" stroke="#29a568" stroke-width="2.7" stroke-linecap="round" stroke-linejoin="round"/></svg><span>2</span></div><div class="t">Execute Workflow4<div class="s">Workflow: 28</div></div></div>
<div class="n" style="left:2870.0px;top:930.4px"><svg class="ic" width="44" height="35" viewBox="0 0 40 32"><g fill="none" stroke="#ff9922" stroke-width="3.5" stroke-linecap="round" stroke-linejoin="round"><path d="M11.5 7 L3 16 L11.5 25"/><path d="M28.5 7 L37 16 L28.5 25"/><path d="M23.5 3 L16.5 29"/></g></svg><div class="in"></div><div class="out"></div><div class="st"><svg width="16" height="13.7" viewBox="0 0 14 12"><path d="M1.5 6.5 L5 10 L12.5 2" fill="none" stroke="#29a568" stroke-width="2.7" stroke-linecap="round" stroke-linejoin="round"/></svg><span>2</span></div><div class="t">Function</div></div>
<div class="n" style="left:3149.9px;top:930.4px"><svg class="ic" width="41" height="33" viewBox="0 0 40 32"><g fill="none" stroke="#ff5d4a" stroke-width="3.5" stroke-linejoin="round"><rect x="13.6" y="1.6" width="12.8" height="8.8" rx="1"/><rect x="3.6" y="21.6" width="12.8" height="8.8" rx="1"/><rect x="23.6" y="21.6" width="12.8" height="8.8" rx="1"/></g><g fill="#ff5d4a"><rect x="0" y="14.4" width="40" height="3.2"/><rect x="18.6" y="10" width="2.8" height="6"/><rect x="8.6" y="16" width="2.8" height="6"/><rect x="28.6" y="16" width="2.8" height="6"/></g></svg><div class="in"></div><div class="out"></div><div class="st"><svg width="16" height="13.7" viewBox="0 0 14 12"><path d="M1.5 6.5 L5 10 L12.5 2" fill="none" stroke="#29a568" stroke-width="2.7" stroke-linecap="round" stroke-linejoin="round"/></svg><span>2</span></div><div class="t">Execute Workflow7<div class="s">Workflow: 33</div></div></div>
<div class="n off" style="left:2870.0px;top:1130.2px"><svg class="ic" width="44" height="35" viewBox="0 0 40 32"><g fill="none" stroke="#ff9922" stroke-width="3.5" stroke-linecap="round" stroke-linejoin="round"><path d="M11.5 7 L3 16 L11.5 25"/><path d="M28.5 7 L37 16 L28.5 25"/><path d="M23.5 3 L16.5 29"/></g></svg><div class="strike"></div><div class="in"></div><div class="out"></div><div class="t">Function12<br>(Disabled)</div></div>
<div class="n off" style="left:3149.9px;top:1130.2px"><svg class="ic" width="41" height="33" viewBox="0 0 40 32"><g fill="none" stroke="#ff5d4a" stroke-width="3.5" stroke-linejoin="round"><rect x="13.6" y="1.6" width="12.8" height="8.8" rx="1"/><rect x="3.6" y="21.6" width="12.8" height="8.8" rx="1"/><rect x="23.6" y="21.6" width="12.8" height="8.8" rx="1"/></g><g fill="#ff5d4a"><rect x="0" y="14.4" width="40" height="3.2"/><rect x="18.6" y="10" width="2.8" height="6"/><rect x="8.6" y="16" width="2.8" height="6"/><rect x="28.6" y="16" width="2.8" height="6"/></g></svg><div class="strike"></div><div class="in"></div><div class="out"></div><div class="t">Execute Workflow5<br>(Disabled)<div class="s">Workflow: 29</div></div></div>
<div class="n" style="left:2870.0px;top:1330.0px"><svg class="ic" width="44" height="35" viewBox="0 0 40 32"><g fill="none" stroke="#ff9922" stroke-width="3.5" stroke-linecap="round" stroke-linejoin="round"><path d="M11.5 7 L3 16 L11.5 25"/><path d="M28.5 7 L37 16 L28.5 25"/><path d="M23.5 3 L16.5 29"/></g></svg><div class="in"></div><div class="out"></div><div class="st"><svg width="16" height="13.7" viewBox="0 0 14 12"><path d="M1.5 6.5 L5 10 L12.5 2" fill="none" stroke="#29a568" stroke-width="2.7" stroke-linecap="round" stroke-linejoin="round"/></svg><span>2</span></div><div class="t">Function13</div></div>
<div class="n" style="left:3149.9px;top:1330.0px"><svg class="ic" width="41" height="33" viewBox="0 0 40 32"><g fill="none" stroke="#ff5d4a" stroke-width="3.5" stroke-linejoin="round"><rect x="13.6" y="1.6" width="12.8" height="8.8" rx="1"/><rect x="3.6" y="21.6" width="12.8" height="8.8" rx="1"/><rect x="23.6" y="21.6" width="12.8" height="8.8" rx="1"/></g><g fill="#ff5d4a"><rect x="0" y="14.4" width="40" height="3.2"/><rect x="18.6" y="10" width="2.8" height="6"/><rect x="8.6" y="16" width="2.8" height="6"/><rect x="28.6" y="16" width="2.8" height="6"/></g></svg><div class="in"></div><div class="out"></div><div class="st"><svg width="16" height="13.7" viewBox="0 0 14 12"><path d="M1.5 6.5 L5 10 L12.5 2" fill="none" stroke="#29a568" stroke-width="2.7" stroke-linecap="round" stroke-linejoin="round"/></svg><span>2</span></div><div class="t">Execute Workflow8<div class="s">Workflow: 35</div></div></div>
<div class="n if" style="left:3369.8px;top:1330.0px"><svg class="ic" width="40" height="40" viewBox="0 0 40 40"><g fill="#408000"><rect x="18.2" y="0" width="3.6" height="40" rx="1.2"/><path d="M3.5 4 H33 L38.5 8.8 L33 13.6 H3.5 a1.4 1.4 0 0 1 -1.4 -1.4 V5.4 A1.4 1.4 0 0 1 3.5 4 Z"/><path d="M36.5 18 H7 L1.5 22.8 L7 27.6 H36.5 a1.4 1.4 0 0 0 1.4 -1.4 V19.4 A1.4 1.4 0 0 0 36.5 18 Z"/></g></svg><div class="in"></div><div class="out o1"></div><div class="out o2"></div><div class="olab" style="top:20px">true</div><div class="olab" style="top:60px">false</div><div class="st"><svg width="16" height="13.7" viewBox="0 0 14 12"><path d="M1.5 6.5 L5 10 L12.5 2" fill="none" stroke="#29a568" stroke-width="2.7" stroke-linecap="round" stroke-linejoin="round"/></svg></div><div class="t">IF5</div></div>
</div>
</body></html>
